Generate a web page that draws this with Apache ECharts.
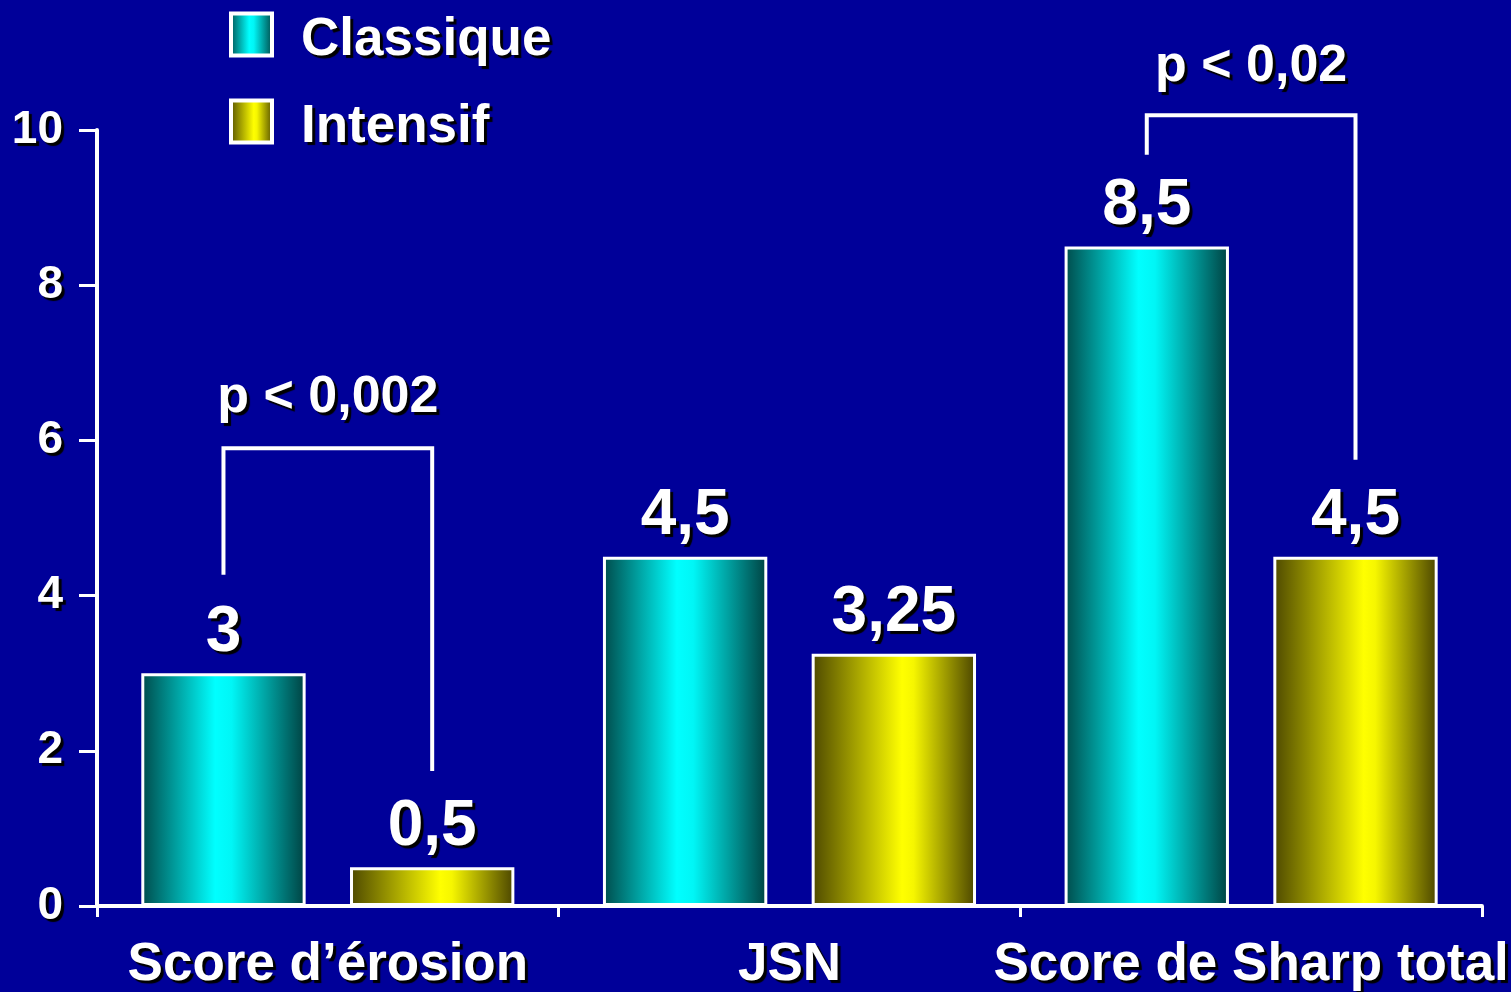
<!DOCTYPE html>
<html>
<head>
<meta charset="utf-8">
<style>
  html, body { margin: 0; padding: 0; background: #000099; }
  #chart { width: 1511px; height: 992px; }
</style>
<script src="https://cdn.jsdelivr.net/npm/echarts@6/dist/echarts.min.js"></script>
</head>
<body>
<div id="chart"></div>
<script>
// ---- Data ----
const categories = ['Score d\u2019érosion', 'JSN', 'Score de Sharp total'];
const seriesNames = ['Classique', 'Intensif'];
const classiqueValues = [3, 4.5, 8.5];
const intensifValues = [0.5, 3.25, 4.5];
const valueLabels = { Classique: ['3', '4,5', '8,5'], Intensif: ['0,5', '3,25', '4,5'] };
const yTicks = [0, 2, 4, 6, 8, 10];
// brackets: [category index, left leg bottom, bracket top, right leg bottom, text level]
const brackets = [
  [0, 4.27, 5.9, 1.74, 6.55],
  [2, 9.68, 10.19, 5.75, 10.82]
];
const pLabels = ['p < 0,002', 'p < 0,02'];

// ---- Styles ----
const FONT = 'Liberation Sans, Arial, sans-serif';
const BAR_W = 0.356;        // fraction of band
const GAP = 0.27;           // fraction of bar width
const shadow = { textShadowColor: '#000', textShadowOffsetX: 3, textShadowOffsetY: 3, textShadowBlur: 1 };

const cyanGrad = new echarts.graphic.LinearGradient(0, 0, 1, 0, [
  { offset: 0, color: '#004a4a' },
  { offset: 0.45, color: '#00ffff' },
  { offset: 0.55, color: '#00f6f6' },
  { offset: 1, color: '#004040' }
]);
const yellowGrad = new echarts.graphic.LinearGradient(0, 0, 1, 0, [
  { offset: 0, color: '#4d4800' },
  { offset: 0.55, color: '#ffff00' },
  { offset: 0.62, color: '#f6f600' },
  { offset: 1, color: '#4a4400' }
]);

function labelFmt(name) {
  return p => valueLabels[name][p.dataIndex];
}

const legendText = Object.assign({
  color: '#fff', fontSize: 53, fontWeight: 'bold', fontFamily: FONT, lineHeight: 52
}, shadow);

const chart = echarts.init(document.getElementById('chart'), null, { renderer: 'canvas' });

chart.setOption({
  backgroundColor: '#000099',
  animation: false,
  legend: {
    data: seriesNames,
    orient: 'vertical',
    left: 229,
    top: 2,
    padding: 0,
    icon: 'rect',
    itemWidth: 41,
    itemHeight: 42,
    itemGap: 22,
    selectedMode: false,
    itemStyle: { borderColor: '#fff', borderWidth: 4 },
    formatter: '{t|{name}}',
    textStyle: Object.assign({}, legendText, {
      rich: { t: Object.assign({}, legendText, { padding: [12, 0, 0, 24] }) }
    })
  },
  grid: { left: 97, right: 24, top: 130, bottom: 85, containLabel: false },
  xAxis: {
    type: 'category',
    data: categories,
    axisLine: { lineStyle: { color: '#fff', width: 4 } },
    axisTick: { show: true, length: 11, lineStyle: { color: '#fff', width: 3 } },
    axisLabel: Object.assign({
      interval: 0, color: '#fff', fontSize: 53, fontWeight: 'bold', fontFamily: FONT, margin: 33
    }, shadow)
  },
  yAxis: {
    type: 'value',
    min: 0, max: 10, interval: 2,
    splitLine: { show: false },
    axisLine: { show: true, lineStyle: { color: '#fff', width: 4 } },
    axisTick: { show: true, length: 18, lineStyle: { color: '#fff', width: 3 } },
    axisLabel: Object.assign({
      color: '#fff', fontSize: 46, fontWeight: 'bold', fontFamily: FONT, margin: 34,
      formatter: v => yTicks.includes(v) ? String(v) : ''
    }, shadow)
  },
  series: [
    {
      name: 'Classique', type: 'bar', data: classiqueValues,
      barWidth: (BAR_W * 100) + '%', barGap: (GAP * 100) + '%',
      itemStyle: { color: cyanGrad, borderColor: '#fff', borderWidth: 3 },
      label: Object.assign({
        show: true, position: 'top', distance: 8, color: '#fff', fontSize: 64,
        fontWeight: 'bold', fontFamily: FONT, formatter: labelFmt('Classique')
      }, shadow)
    },
    {
      name: 'Intensif', type: 'bar', data: intensifValues,
      barWidth: (BAR_W * 100) + '%', barGap: (GAP * 100) + '%',
      itemStyle: { color: yellowGrad, borderColor: '#fff', borderWidth: 3 },
      label: Object.assign({
        show: true, position: 'top', distance: 8, color: '#fff', fontSize: 64,
        fontWeight: 'bold', fontFamily: FONT, formatter: labelFmt('Intensif')
      }, shadow)
    },
    {
      name: 'brackets', type: 'custom', data: brackets, clip: false, z: 10,
      renderItem: function (params, api) {
        const cat = api.value(0);
        const c = api.coord([cat, api.value(2)]);
        const band = api.size([1, 0])[0];
        const off = band * (BAR_W + BAR_W * GAP) / 2;
        const xL = c[0] - off, xR = c[0] + off;
        const yTop = c[1];
        const yLB = api.coord([cat, api.value(1)])[1];
        const yRB = api.coord([cat, api.value(3)])[1];
        const yText = api.coord([cat, api.value(4)])[1];
        return {
          type: 'group',
          children: [
            {
              type: 'polyline',
              shape: { points: [[xL, yLB], [xL, yTop], [xR, yTop], [xR, yRB]] },
              style: { stroke: '#fff', lineWidth: 4, fill: null, lineJoin: 'miter' }
            },
            {
              type: 'text', x: c[0], y: yText,
              style: Object.assign({
                text: pLabels[params.dataIndex], fill: '#fff',
                font: 'bold 52px ' + FONT, textAlign: 'center', textVerticalAlign: 'middle'
              }, shadow)
            }
          ]
        };
      }
    }
  ]
});
</script>
</body>
</html>
